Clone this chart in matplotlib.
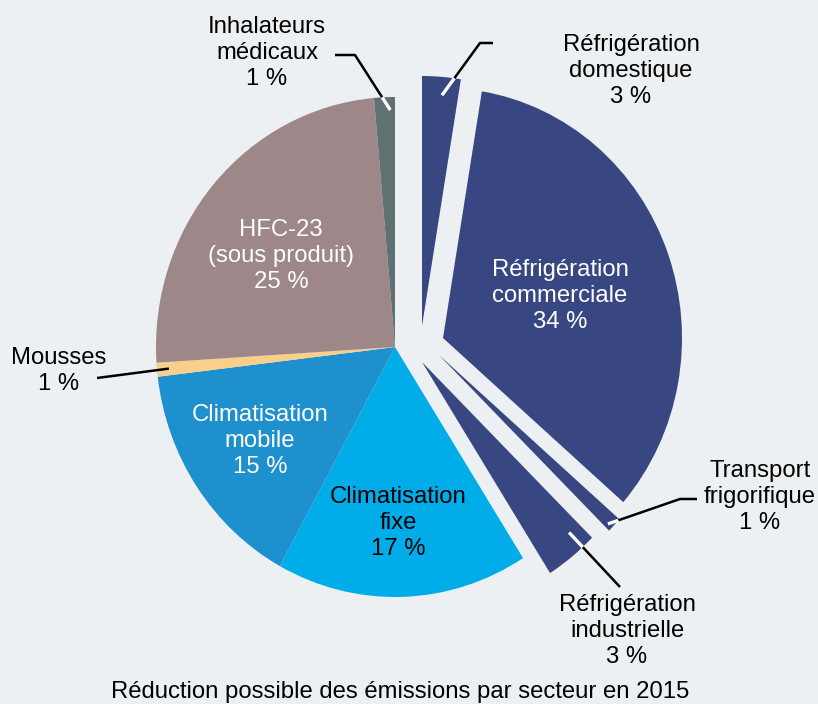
import matplotlib
matplotlib.use('Agg')
import matplotlib.pyplot as plt
import numpy as np

plt.rcParams['font.family'] = ['Liberation Sans', 'DejaVu Sans']

# ---------------- data ----------------
sectors = ["Réfrigération\ndomestique", "Réfrigération\ncommerciale", "Transport\nfrigorifique",
           "Réfrigération\nindustrielle", "Climatisation\nfixe", "Climatisation\nmobile",
           "Mousses", "HFC-23\n(sous produit)", "Inhalateurs\nmédicaux"]
shares = [2.6, 33.8, 1.0, 3.6, 17.0, 15.1, 0.9, 24.6, 1.4]
pct_labels = ["3 %", "34 %", "1 %", "3 %", "17 %", "15 %", "1 %", "25 %", "1 %"]
colors = ["#384782", "#384782", "#384782", "#384782", "#00ADE9", "#1F90CE",
          "#F8CF8B", "#9E8789", "#5F7173"]
caption = "Réduction possible des émissions par secteur en 2015"

# ---------------- layout ----------------
BG = "#ECF0F3"
W, H = 818, 704
CX, CY = 395, 347     # pie centre (px)
RX, RY = 239, 250     # pie radii (px)
# explosion offsets (px right, px up)
offsets = {0: (27, 21), 1: (48, 9), 2: (44, -8), 3: (27, -15)}


def P(px, py):
    return ((px - CX) / RX, (CY - py) / RY)


def to_px(x, y):
    return (CX + x * RX, CY - y * RY)


fig = plt.figure(figsize=(W / 100, H / 100), dpi=100)
fig.patch.set_facecolor(BG)
ax = fig.add_axes([0, 0, 1, 1])
wedges, _ = ax.pie(shares, colors=colors, startangle=90, counterclock=False,
                   wedgeprops=dict(linewidth=0))
ax.set_aspect('auto')
ax.set_xlim(-CX / RX, (W - CX) / RX)
ax.set_ylim((CY - H) / RY, CY / RY)
ax.axis('off')

for i, (dx, dy) in offsets.items():
    wedges[i].set_center((dx / RX, dy / RY))


def arc_px(w, frac, r=1.0):
    t = np.deg2rad(w.theta1 + frac * (w.theta2 - w.theta1))
    c = w.center
    return to_px(c[0] + r * np.cos(t), c[1] + r * np.sin(t))


def leader(i, frac, path, white_len, r=1.0, white=True):
    bx, by = arc_px(wedges[i], frac, r)
    nx, ny = path[0]
    v = np.array([bx - nx, by - ny])
    v = v / np.linalg.norm(v)
    pts = [(bx, by)] + list(path)
    xs, ys = zip(*[P(*p) for p in pts])
    ax.plot(xs, ys, color='black', lw=1.8, solid_capstyle='butt', zorder=5)
    if white_len > 0:
        ax_, ay_ = bx + v[0] * white_len, by + v[1] * white_len
        col = 'white' if white else 'black'
        (x0, y0), (x1, y1) = P(bx, by), P(ax_, ay_)
        ax.plot([x0, x1], [y0, y1], color=col, lw=2.4, solid_capstyle='butt', zorder=6)


leader(0, 0.17, [(480, 43), (493, 43)], 21)
leader(8, 0.61, [(355, 55), (335, 55)], 15)
leader(2, 0.90, [(680, 499), (697, 499)], 11)
leader(3, 0.76, [(620, 587)], 20)
leader(6, 0.5, [(97, 378)], 0, r=0.95)

# ---------------- labels ----------------
label_pos = {0: (631, 71, 'black'), 1: (560, 296, 'white'), 2: (760, 497, 'black'),
             3: (627, 631, 'black'), 4: (398, 523, 'black'), 5: (260, 441, 'white'),
             6: (59, 371, 'black'), 7: (281, 256, 'white'), 8: (267, 53, 'black')}
for i, (px, py, col) in label_pos.items():
    ax.text(*P(px, py), sectors[i] + "\n" + pct_labels[i], ha='center', va='center',
            fontsize=17.2, linespacing=1.22, color=col, zorder=7)

ax.text(*P(400, 692), caption, ha='center', va='center', fontsize=17.2, color='black')

fig.savefig('out.png', dpi=100, facecolor=BG)
